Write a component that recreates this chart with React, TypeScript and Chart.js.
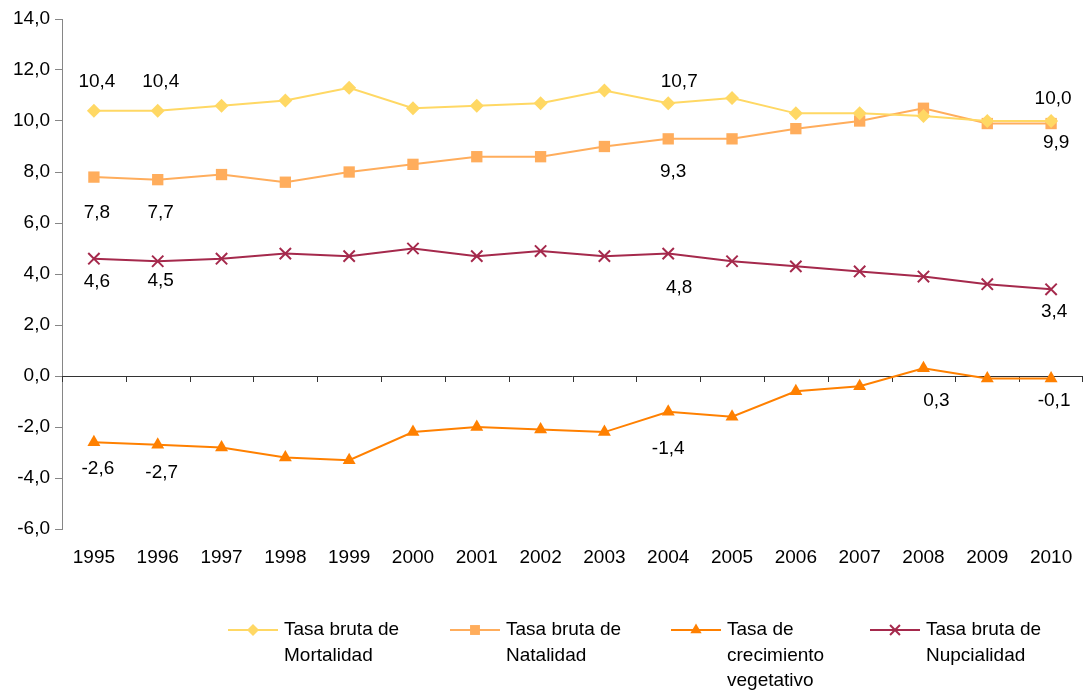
import React, { useEffect, useRef } from 'react';
import { Chart, registerables } from 'chart.js';

Chart.register(...registerables);

// ---- Data ----
const years = ['1995', '1996', '1997', '1998', '1999', '2000', '2001', '2002', '2003', '2004', '2005', '2006', '2007', '2008', '2009', '2010'];
const mortalidad = [10.4, 10.4, 10.6, 10.8, 11.3, 10.5, 10.6, 10.7, 11.2, 10.7, 10.9, 10.3, 10.3, 10.2, 10.0, 10.0];
const natalidad = [7.8, 7.7, 7.9, 7.6, 8.0, 8.3, 8.6, 8.6, 9.0, 9.3, 9.3, 9.7, 10.0, 10.5, 9.9, 9.9];
const crecimiento = [-2.6, -2.7, -2.8, -3.2, -3.3, -2.2, -2.0, -2.1, -2.2, -1.4, -1.6, -0.6, -0.4, 0.3, -0.1, -0.1];
const nupcialidad = [4.6, 4.5, 4.6, 4.8, 4.7, 5.0, 4.7, 4.9, 4.7, 4.8, 4.5, 4.3, 4.1, 3.9, 3.6, 3.4];
const seriesNames = [
  ['Tasa bruta de', 'Mortalidad'],
  ['Tasa bruta de', 'Natalidad'],
  ['Tasa de', 'crecimiento', 'vegetativo'],
  ['Tasa bruta de', 'Nupcialidad'],
];
const yMin = -6;
const yMax = 14;
const yStep = 2;

// Which points carry a value label (indices into years)
const labeledPoints = [
  [0, 1, 9, 15],
  [0, 1, 9, 15],
  [0, 1, 9, 13, 15],
  [0, 1, 9, 15],
];

// ---- Layout / style ----
const FONT = '"Liberation Sans", Arial, Helvetica, sans-serif';
const FS = 19;
const colors = ['#FFD864', '#FFAD5C', '#FF8000', '#A5294C'];
const pointStyles = ['rectRot', 'rect', 'triangle', 'crossRot'];
const pointRadii = [7, 8, 7.5, 8];
// label offsets [dx, dy] in px relative to the point, per labeled point
const labelOffsets = [
  [[3, -29], [3, -29], [11, -21], [2, -22]],
  [[3, 36], [3, 33], [5, 33], [5, 19]],
  [[4, 26], [4, 28], [0, 37], [13, 32], [3, 22]],
  [[3, 23], [3, 20], [11, 34], [3, 22]],
];
const legendX = [228, 450, 671, 870];
const legendY = 630;
const legendLineH = 25.5;

const fmt = (v: number) => v.toFixed(1).replace('.', ',');

function drawMarker(ctx: CanvasRenderingContext2D, style: string, x: number, y: number, r: number, color: string) {
  ctx.save();
  ctx.fillStyle = color;
  ctx.strokeStyle = color;
  ctx.beginPath();
  if (style === 'rectRot') {
    ctx.moveTo(x, y - r);
    ctx.lineTo(x + r, y);
    ctx.lineTo(x, y + r);
    ctx.lineTo(x - r, y);
    ctx.closePath();
    ctx.fill();
  } else if (style === 'rect') {
    const s = r * Math.SQRT1_2;
    ctx.rect(x - s, y - s, 2 * s, 2 * s);
    ctx.fill();
  } else if (style === 'triangle') {
    const h = r * 0.866;
    ctx.moveTo(x, y - r);
    ctx.lineTo(x + h, y + r / 2);
    ctx.lineTo(x - h, y + r / 2);
    ctx.closePath();
    ctx.fill();
  } else {
    const s = r * Math.SQRT1_2;
    ctx.lineWidth = 2;
    ctx.moveTo(x - s, y - s);
    ctx.lineTo(x + s, y + s);
    ctx.moveTo(x + s, y - s);
    ctx.lineTo(x - s, y + s);
    ctx.stroke();
  }
  ctx.restore();
}

const zeroAxisPlugin = {
  id: 'zeroAxis',
  beforeDatasetsDraw(chart: any) {
    const { ctx, chartArea, scales } = chart;
    const xs = scales.x;
    const y0 = scales.y.getPixelForValue(0);
    const half = (xs.getPixelForValue(1) - xs.getPixelForValue(0)) / 2;
    ctx.save();
    ctx.strokeStyle = '#333333';
    ctx.lineWidth = 1;
    ctx.beginPath();
    ctx.moveTo(chartArea.left, Math.round(y0) + 0.5);
    ctx.lineTo(chartArea.right, Math.round(y0) + 0.5);
    for (let i = 0; i <= years.length; i++) {
      const x = Math.min(Math.round(xs.getPixelForValue(i) - half), chartArea.right - 1) + 0.5;
      ctx.moveTo(x, Math.round(y0));
      ctx.lineTo(x, Math.round(y0) + 6);
    }
    ctx.stroke();
    ctx.restore();
  },
};

const valueLabelPlugin = {
  id: 'valueLabels',
  afterDatasetsDraw(chart: any) {
    const { ctx } = chart;
    ctx.save();
    ctx.font = `${FS}px ${FONT}`;
    ctx.fillStyle = '#000';
    ctx.textAlign = 'center';
    ctx.textBaseline = 'middle';
    chart.data.datasets.forEach((ds: any, di: number) => {
      const meta = chart.getDatasetMeta(di);
      labeledPoints[di].forEach((idx, k) => {
        const el = meta.data[idx];
        const [dx, dy] = labelOffsets[di][k];
        ctx.fillText(fmt(ds.data[idx]), el.x + dx, el.y + dy);
      });
    });
    ctx.restore();
  },
};

const legendPlugin = {
  id: 'customLegend',
  afterDraw(chart: any) {
    const { ctx } = chart;
    ctx.save();
    ctx.font = `${FS}px ${FONT}`;
    ctx.textBaseline = 'middle';
    ctx.textAlign = 'left';
    seriesNames.forEach((lines, i) => {
      const x0 = legendX[i];
      ctx.strokeStyle = colors[i];
      ctx.lineWidth = 2;
      ctx.beginPath();
      ctx.moveTo(x0, legendY);
      ctx.lineTo(x0 + 50, legendY);
      ctx.stroke();
      drawMarker(ctx, pointStyles[i], x0 + 25, legendY, pointRadii[i] - 1, colors[i]);
      ctx.fillStyle = '#000';
      lines.forEach((t, li) => ctx.fillText(t, x0 + 56, legendY + li * legendLineH));
    });
    ctx.restore();
  },
};

export default function App() {
  const ref = useRef<HTMLCanvasElement>(null);
  useEffect(() => {
    const series = [mortalidad, natalidad, crecimiento, nupcialidad];
    const chart = new Chart(ref.current as HTMLCanvasElement, {
      type: 'line',
      data: {
        labels: years,
        datasets: series.map((d, i) => ({
          label: seriesNames[i].join(' '),
          data: d,
          borderColor: colors[i],
          backgroundColor: colors[i],
          pointBackgroundColor: colors[i],
          pointBorderColor: colors[i],
          pointStyle: pointStyles[i] as any,
          pointRadius: pointRadii[i],
          pointBorderWidth: i === 3 ? 2 : 0,
          borderWidth: 2,
          tension: 0,
          fill: false,
          clip: false as any,
        })),
      },
      options: {
        animation: false,
        responsive: false,
        maintainAspectRatio: false,
        layout: { autoPadding: false, padding: { top: 19, right: 0, bottom: 120, left: 0 } },
        plugins: { legend: { display: false }, tooltip: { enabled: false } },
        scales: {
          x: {
            offset: true,
            grid: { display: false, drawTicks: false },
            border: { display: false },
            ticks: { font: { family: FONT, size: FS }, color: '#000', padding: 17, maxRotation: 0, autoSkip: false },
            afterFit: (s: any) => { s.height = 41; s.paddingLeft = 0; s.paddingRight = 0; },
          },
          y: {
            min: yMin,
            max: yMax,
            ticks: { stepSize: yStep, font: { family: FONT, size: FS }, color: '#000', padding: 5, callback: (v: any) => fmt(Number(v)) },
            grid: { drawOnChartArea: false, drawTicks: true, tickLength: 7, color: '#868686' },
            border: { color: '#868686' },
            afterFit: (s: any) => { s.width = 62; },
          },
        },
      },
      plugins: [zeroAxisPlugin, valueLabelPlugin, legendPlugin],
    });
    return () => chart.destroy();
  }, []);
  return (
    <div style={{ position: 'fixed', left: 0, top: 0, width: 1083, height: 690, background: '#fff' }}>
      <canvas ref={ref} width={1083} height={690} style={{ display: 'block' }} />
    </div>
  );
}
